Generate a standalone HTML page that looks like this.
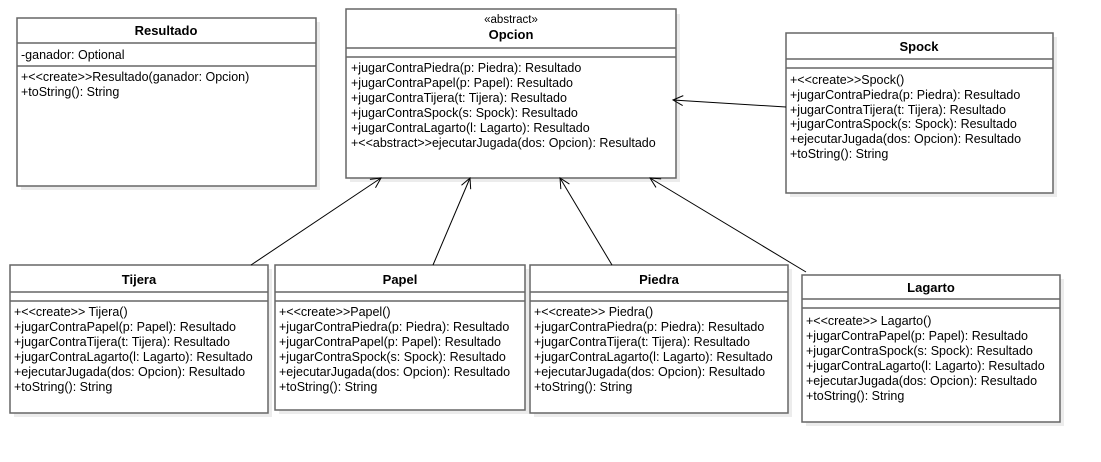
<!DOCTYPE html>
<html><head><meta charset="utf-8"><style>
html,body{margin:0;padding:0;background:#fff;}
svg{display:block;}
text{font-family:"Liberation Sans",Arial,sans-serif;font-size:12.5px;fill:#000;}
.t{font-weight:bold;text-anchor:middle;font-size:13px;}
.b{fill:#fff;stroke:#666;stroke-width:1.5;}
.s{fill:#ececec;}
.l{stroke:#666;stroke-width:1.5;}
.a{stroke:#000;stroke-width:1;fill:none;}
</style></head><body>
<svg width="1101" height="462" viewBox="0 0 1101 462">
<defs><marker id="m" markerWidth="12" markerHeight="12" refX="11" refY="6" orient="auto" markerUnits="userSpaceOnUse"><path d="M1,1 L11,6 L1,11" fill="none" stroke="#000" stroke-width="1"/></marker></defs>

<rect class="s" x="21" y="22" width="299" height="168"/>
<rect class="s" x="350" y="14" width="330" height="168"/>
<rect class="s" x="790" y="37" width="267" height="160"/>
<rect class="s" x="14" y="269" width="258" height="148"/>
<rect class="s" x="279" y="269" width="250" height="145"/>
<rect class="s" x="534" y="269" width="258" height="148"/>
<rect class="s" x="806" y="279" width="258" height="147"/>

<!-- Resultado -->
<rect class="b" x="17" y="18" width="299" height="168"/>
<text class="t" x="166" y="35">Resultado</text>
<line class="l" x1="17" y1="43" x2="316" y2="43"/>
<text x="21" y="59">-ganador: Optional</text>
<line class="l" x1="17" y1="66" x2="316" y2="66"/>
<text x="21" y="81">+&lt;&lt;create&gt;&gt;Resultado(ganador: Opcion)</text>
<text x="21" y="96">+toString(): String</text>

<!-- Opcion -->
<rect class="b" x="346" y="9" width="330" height="169"/>
<text x="511" y="23" text-anchor="middle" style="font-size:11.5px">«abstract»</text>
<text class="t" x="511" y="39">Opcion</text>
<line class="l" x1="346" y1="48" x2="676" y2="48"/>
<line class="l" x1="346" y1="57" x2="676" y2="57"/>
<text x="351" y="72">+jugarContraPiedra(p: Piedra): Resultado</text>
<text x="351" y="87">+jugarContraPapel(p: Papel): Resultado</text>
<text x="351" y="102">+jugarContraTijera(t: Tijera): Resultado</text>
<text x="351" y="117">+jugarContraSpock(s: Spock): Resultado</text>
<text x="351" y="132">+jugarContraLagarto(l: Lagarto): Resultado</text>
<text x="351" y="147">+&lt;&lt;abstract&gt;&gt;ejecutarJugada(dos: Opcion): Resultado</text>

<!-- Spock -->
<rect class="b" x="786" y="33" width="267" height="160"/>
<text class="t" x="919" y="51">Spock</text>
<line class="l" x1="786" y1="59" x2="1053" y2="59"/>
<line class="l" x1="786" y1="68" x2="1053" y2="68"/>
<text x="790" y="84">+&lt;&lt;create&gt;&gt;Spock()</text>
<text x="790" y="99">+jugarContraPiedra(p: Piedra): Resultado</text>
<text x="790" y="114">+jugarContraTijera(t: Tijera): Resultado</text>
<text x="790" y="128">+jugarContraSpock(s: Spock): Resultado</text>
<text x="790" y="143">+ejecutarJugada(dos: Opcion): Resultado</text>
<text x="790" y="158">+toString(): String</text>

<!-- Tijera -->
<rect class="b" x="10" y="265" width="258" height="148"/>
<text class="t" x="139" y="284">Tijera</text>
<line class="l" x1="10" y1="292" x2="268" y2="292"/>
<line class="l" x1="10" y1="301" x2="268" y2="301"/>
<text x="14" y="316">+&lt;&lt;create&gt;&gt; Tijera()</text>
<text x="14" y="331">+jugarContraPapel(p: Papel): Resultado</text>
<text x="14" y="346">+jugarContraTijera(t: Tijera): Resultado</text>
<text x="14" y="361">+jugarContraLagarto(l: Lagarto): Resultado</text>
<text x="14" y="376">+ejecutarJugada(dos: Opcion): Resultado</text>
<text x="14" y="391">+toString(): String</text>

<!-- Papel -->
<rect class="b" x="275" y="265" width="250" height="145"/>
<text class="t" x="400" y="284">Papel</text>
<line class="l" x1="275" y1="292" x2="525" y2="292"/>
<line class="l" x1="275" y1="301" x2="525" y2="301"/>
<text x="279" y="316">+&lt;&lt;create&gt;&gt;Papel()</text>
<text x="279" y="331">+jugarContraPiedra(p: Piedra): Resultado</text>
<text x="279" y="346">+jugarContraPapel(p: Papel): Resultado</text>
<text x="279" y="361">+jugarContraSpock(s: Spock): Resultado</text>
<text x="279" y="376">+ejecutarJugada(dos: Opcion): Resultado</text>
<text x="279" y="391">+toString(): String</text>

<!-- Piedra -->
<rect class="b" x="530" y="265" width="258" height="148"/>
<text class="t" x="659" y="284">Piedra</text>
<line class="l" x1="530" y1="292" x2="788" y2="292"/>
<line class="l" x1="530" y1="301" x2="788" y2="301"/>
<text x="534" y="316">+&lt;&lt;create&gt;&gt; Piedra()</text>
<text x="534" y="331">+jugarContraPiedra(p: Piedra): Resultado</text>
<text x="534" y="346">+jugarContraTijera(t: Tijera): Resultado</text>
<text x="534" y="361">+jugarContraLagarto(l: Lagarto): Resultado</text>
<text x="534" y="376">+ejecutarJugada(dos: Opcion): Resultado</text>
<text x="534" y="391">+toString(): String</text>

<!-- Lagarto -->
<rect class="b" x="802" y="275" width="258" height="147"/>
<text class="t" x="931" y="292">Lagarto</text>
<line class="l" x1="802" y1="299" x2="1060" y2="299"/>
<line class="l" x1="802" y1="308" x2="1060" y2="308"/>
<text x="806" y="325">+&lt;&lt;create&gt;&gt; Lagarto()</text>
<text x="806" y="340">+jugarContraPapel(p: Papel): Resultado</text>
<text x="806" y="355">+jugarContraSpock(s: Spock): Resultado</text>
<text x="806" y="370">+jugarContraLagarto(l: Lagarto): Resultado</text>
<text x="806" y="385">+ejecutarJugada(dos: Opcion): Resultado</text>
<text x="806" y="400">+toString(): String</text>

<line class="a" x1="251" y1="265" x2="381" y2="178" marker-end="url(#m)"/>
<line class="a" x1="433" y1="265" x2="470" y2="178" marker-end="url(#m)"/>
<line class="a" x1="612" y1="265" x2="560" y2="178" marker-end="url(#m)"/>
<line class="a" x1="806" y1="272" x2="650" y2="178" marker-end="url(#m)"/>
<line class="a" x1="786" y1="107" x2="673" y2="100" marker-end="url(#m)"/>
</svg>
</body></html>
